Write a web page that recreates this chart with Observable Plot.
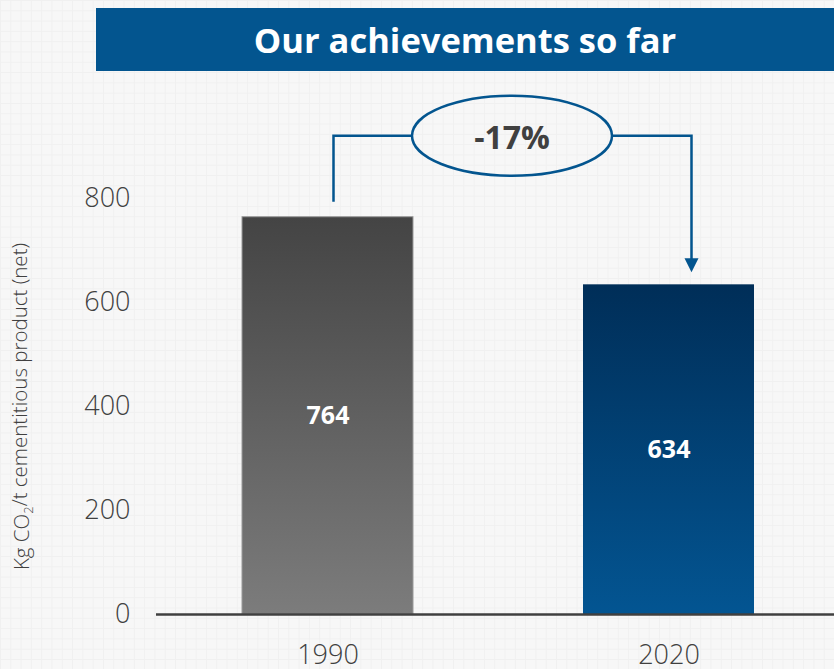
<!DOCTYPE html>
<html>
<head>
<meta charset="utf-8">
<script src="https://cdn.jsdelivr.net/npm/d3@7"></script>
<script src="https://cdn.jsdelivr.net/npm/@observablehq/plot@0.6"></script>
<style>
  html, body { margin: 0; padding: 0; }
  #wrap {
    width: 834px; height: 669px; overflow: hidden;
    background-color: #f7f7f7;
    background-image:
      linear-gradient(#f0f0f0 1px, transparent 1px),
      linear-gradient(90deg, #f0f0f0 1px, transparent 1px);
    background-size: 10.3px 10.3px;
    font-family: "Open Sans", "Noto Sans", sans-serif;
  }
  #banner {
    margin: 0 0 0 96px; position: relative; top: 8px;
    width: 738px; height: 63px; background: #03558f;
    color: #fff; font-weight: 700; font-size: 34.5px;
    display: flex; align-items: center; justify-content: center;
  }
  #chart { position: relative; top: 8px; }
</style>
</head>
<body>
<div id="wrap">
  <div id="banner">Our achievements so far</div>
  <div id="chart"></div>
</div>
<script>
const years = ["1990", "2020"];
const values = [764, 634];
const yTicks = [0, 200, 400, 600, 800];
const yLabelParts = ["Kg CO", "2", "/t cementitious product (net)"];
const changeLabel = ["-17%"];

const data = years.map((year, i) => ({year, value: values[i]}));
const blue = "#03558f";

function annotation(index, scales) {
  const x = scales.x, y = scales.y;
  const bw = typeof x.bandwidth === "function" ? x.bandwidth() : 0;
  const cA = x(years[0]) + bw / 2, cB = x(years[1]) + bw / 2;
  const level = y(d3.max(values)) - 81;
  const xl = cA + 6, xr = cB + 23;
  const ex = (cA + cB) / 2 + 14, rx = 100, ry = 40;
  const tip = y(values[1]) - 12;
  const g = d3.create("svg:g");
  g.append("path")
    .attr("d", `M${xl},${y(values[0]) - 15}V${level}H${ex - rx}M${ex + rx},${level}H${xr}V${tip - 13}`)
    .attr("fill", "none").attr("stroke", blue).attr("stroke-width", 2.5);
  g.append("path")
    .attr("d", `M${xr - 7},${tip - 14}L${xr + 7},${tip - 14}L${xr},${tip}Z`)
    .attr("fill", blue);
  g.append("ellipse")
    .attr("cx", ex).attr("cy", level).attr("rx", rx).attr("ry", ry)
    .attr("fill", "none").attr("stroke", blue).attr("stroke-width", 2.5);
  g.append("text")
    .attr("x", ex).attr("y", level + 2).attr("dy", "0.35em")
    .attr("text-anchor", "middle")
    .attr("font-size", 32).attr("font-weight", 700).attr("fill", "#404040")
    .text(changeLabel[0]);
  return g.node();
}

const chart = Plot.plot({
  width: 834,
  height: 598,
  marginLeft: 160,
  marginRight: -2,
  marginTop: 127,
  marginBottom: 55,
  style: {fontFamily: "Open Sans, Noto Sans, sans-serif", color: "#404040", background: "transparent", overflow: "visible"},
  x: {domain: years, paddingInner: 0.5, paddingOuter: 0.241, label: null},
  y: {domain: [0, 800], ticks: yTicks},
  marks: [
    Plot.axisY({ticks: yTicks, tickSize: 0, tickPadding: 30, fontSize: 27, fontWeight: 300,
      label: yLabelParts.join(""), labelAnchor: "center", labelOffset: 146}),
    Plot.axisX({tickSize: 0, tickPadding: 30, fontSize: 27, fontWeight: 300, label: null}),
    Plot.barY(data.filter(d => d.year === years[0]), {x: "year", y: "value", fill: "url(#gradGrey)", stroke: "#9a9a9a", strokeWidth: 1}),
    Plot.barY(data.filter(d => d.year === years[1]), {x: "year", y: "value", fill: "url(#gradBlue)"}),
    Plot.ruleY([0], {stroke: "#404040", strokeWidth: 2.5, insetLeft: -4}),
    Plot.text(data, {x: "year", y: d => d.value / 2, text: d => String(d.value), fill: "white", fontWeight: 700, fontSize: 25}),
    annotation
  ]
});

const svg = d3.select(chart);
const defs = svg.insert("defs", ":first-child");
const gradients = [["gradGrey", "#444444", "#7c7c7c"], ["gradBlue", "#002e58", "#035592"]];
for (const [id, c0, c1] of gradients) {
  const lg = defs.append("linearGradient").attr("id", id)
    .attr("x1", 0).attr("y1", 0).attr("x2", 0).attr("y2", 1);
  lg.append("stop").attr("offset", "0%").attr("stop-color", c0);
  lg.append("stop").attr("offset", "100%").attr("stop-color", c1);
}
const lab = svg.select('g[aria-label="y-axis label"] text');
lab.text(null).attr("font-size", 20.5).attr("font-weight", 300).attr("fill", "#404040");
lab.append("tspan").text(yLabelParts[0]);
lab.append("tspan").attr("font-size", 13).attr("dy", "0.3em").text(yLabelParts[1]);
lab.append("tspan").attr("dy", "-0.3em").text(yLabelParts[2]);

document.getElementById("chart").appendChild(chart);
</script>
</body>
</html>
